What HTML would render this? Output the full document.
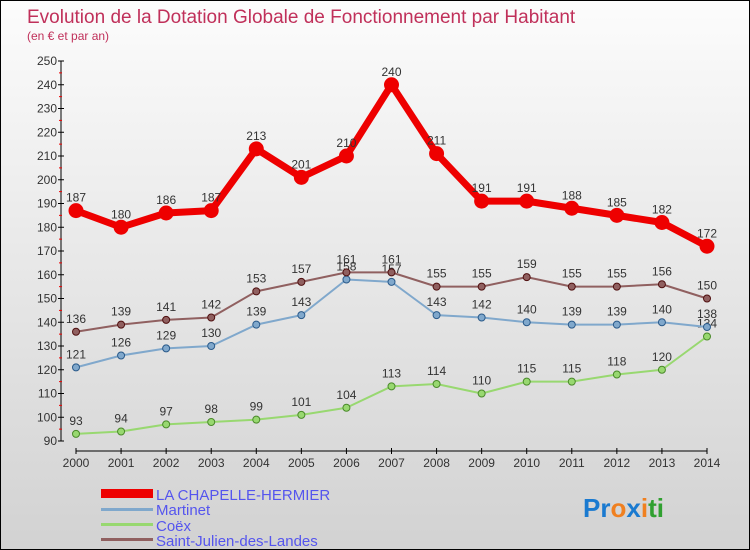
<!DOCTYPE html>
<html><head><meta charset="utf-8"><style>
body{margin:0}
#c{width:748px;height:548px;border:1px solid #000;background:linear-gradient(#fcfcfc,#d2d2d2);position:relative;font-family:"Liberation Sans",sans-serif;overflow:hidden}
</style></head><body>
<div id="c">
<svg id="s" width="748" height="548" xmlns="http://www.w3.org/2000/svg">
<text x="26" y="22" font-size="19" fill="#c0305a">Evolution de la Dotation Globale de Fonctionnement par Habitant</text>
<text x="26" y="39" font-size="12" fill="#c0305a">(en € et par an)</text>
<g id="g"></g>
<g>
<rect x="100" y="488" width="52" height="9" fill="#e00"/>
<text x="155" y="499" font-size="15" fill="#5555ee">LA CHAPELLE-HERMIER</text>
<rect x="100" y="507" width="52" height="3" fill="#80a8cc"/>
<text x="155" y="514" font-size="15" fill="#5555ee">Martinet</text>
<rect x="100" y="522" width="52" height="3" fill="#98d870"/>
<text x="155" y="530" font-size="15" fill="#5555ee">Coëx</text>
<rect x="100" y="537" width="52" height="3" fill="#906060"/>
<text x="155" y="545" font-size="15" fill="#5555ee">Saint-Julien-des-Landes</text>
</g>
<text x="582" y="516" font-size="26" font-weight="bold"><tspan fill="#1a7ad0">Pr</tspan><tspan fill="#f08020">o</tspan><tspan fill="#1a7ad0">x</tspan><tspan fill="#f08020">i</tspan><tspan fill="#30a030">ti</tspan></text>
</svg>
</div>
<script>
const years=[2000,2001,2002,2003,2004,2005,2006,2007,2008,2009,2010,2011,2012,2013,2014];
const yTicks=[90,100,110,120,130,140,150,160,170,180,190,200,210,220,230,240,250];
const chapelle=[187,180,186,187,213,201,210,240,211,191,191,188,185,182,172];
const martinet=[121,126,129,130,139,143,158,157,143,142,140,139,139,140,138];
const coex=[93,94,97,98,99,101,104,113,114,110,115,115,118,120,134];
const stjulien=[136,139,141,142,153,157,161,161,155,155,159,155,155,156,150];
const NS="http://www.w3.org/2000/svg";
const g=document.getElementById('g');
const X=i=>75+i*(706-75)/14;
const Y=v=>440-(v-90)*(380/160);
function mk(t,a,name){const e=document.createElementNS(NS,t);for(const k in a)e.setAttribute(k,a[k]);


g.appendChild(e);return e;}
mk('line',{x1:60,y1:60,x2:60,y2:440,stroke:'#000','stroke-width':1},'y-axis');
yTicks.forEach((v,i)=>{mk('line',{x1:57,y1:Y(v),x2:63,y2:Y(v),stroke:'#000'},'y-tick');
if(i<yTicks.length-1)mk('line',{x1:58,y1:Y(v+5),x2:61,y2:Y(v+5),stroke:'#e00'},'y-minor-tick');
const t=mk('text',{x:56,y:Y(v)+4,'font-size':12,fill:'#333','text-anchor':'end'},'y-tick-label');t.textContent=v;});
mk('line',{x1:X(0),y1:450,x2:X(14),y2:450,stroke:'#000'},'x-axis');
years.forEach((y,i)=>{mk('line',{x1:X(i),y1:447,x2:X(i),y2:453,stroke:'#000'},'x-tick');
const t=mk('text',{x:X(i),y:466,'font-size':12,fill:'#333','text-anchor':'middle'},'x-tick-label');t.textContent=y;});
function series(d,col,w,r,name,dark){
mk('polyline',{points:d.map((v,i)=>X(i)+','+Y(v)).join(' '),fill:'none',stroke:col,'stroke-width':w,'stroke-linejoin':'round'},name+'-line');
d.forEach((v,i)=>{mk('circle',{cx:X(i),cy:Y(v),r:r,fill:col,stroke:dark,'stroke-width':1},name+'-point');
const t=mk('text',{x:X(i),y:Y(v)-9,'font-size':12,fill:'#333','text-anchor':'middle'},name+'-value-label');t.textContent=v;});}
series(coex,'#98d870',2,3.5,'coex','#4a8a2a');
series(martinet,'#80a8cc',2,3.5,'martinet','#2a5a8a');
series(stjulien,'#906060',2,3.5,'saint-julien','#501010');
series(chapelle,'#ee0000',7,7,'la-chapelle','#ee0000');
</script>
</body></html>
